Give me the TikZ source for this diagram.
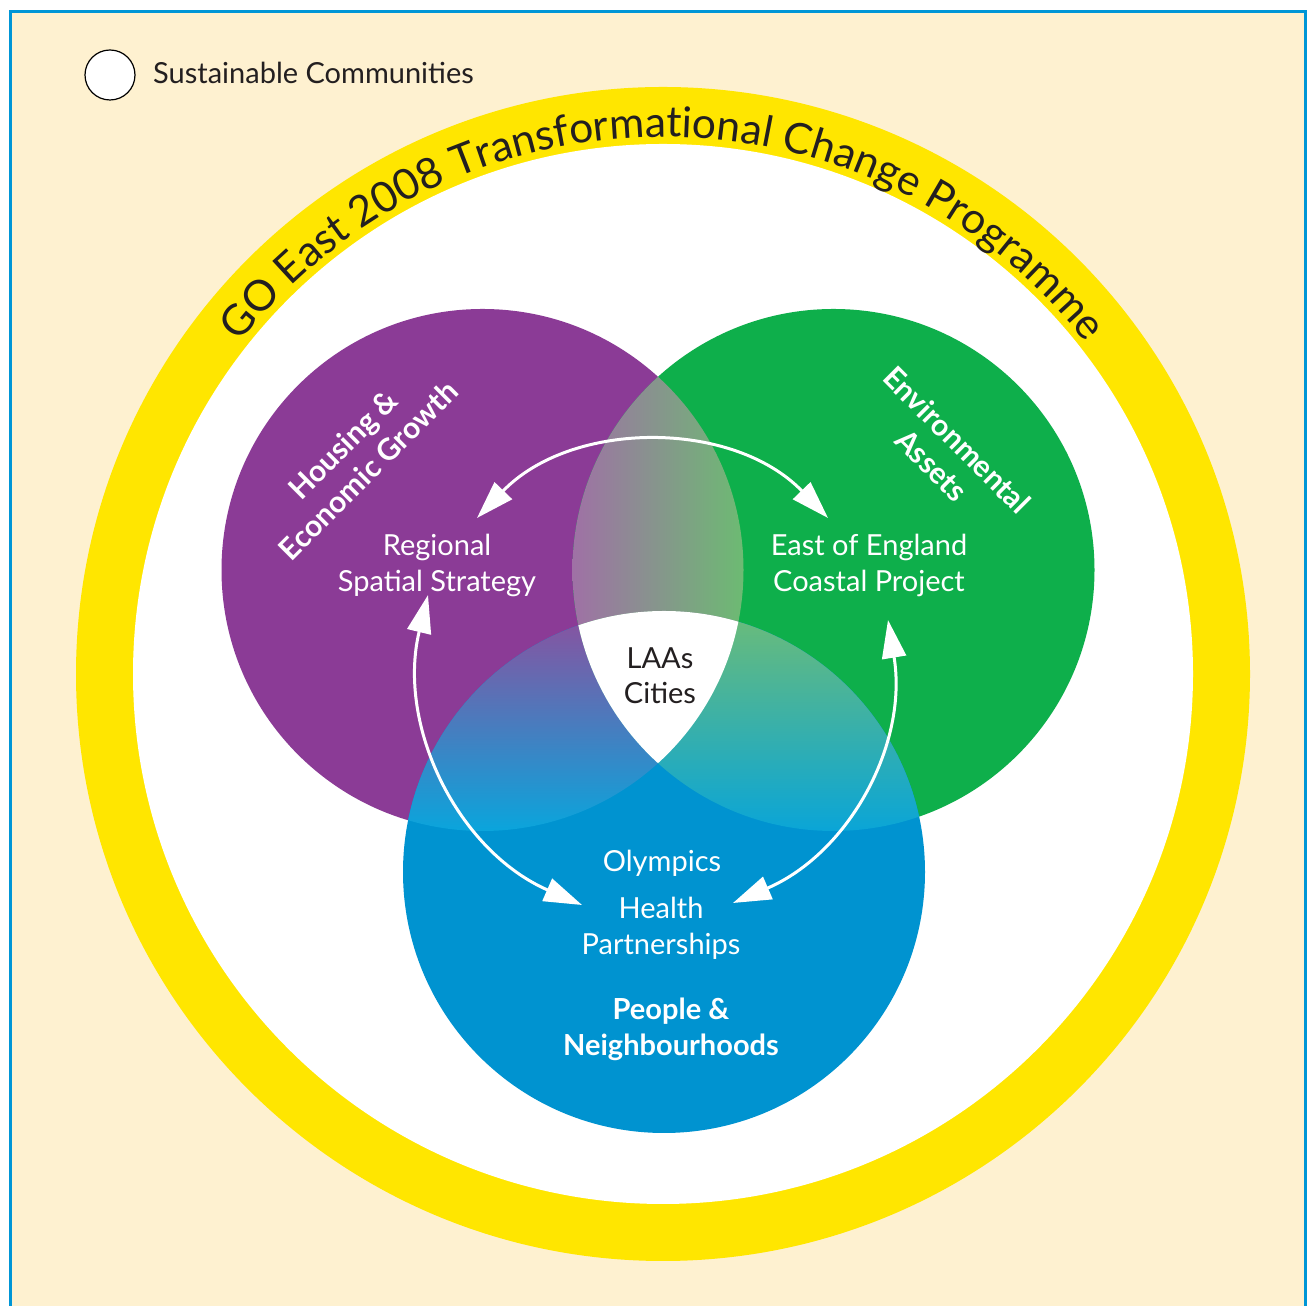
\documentclass[tikz,border=0pt]{standalone}
\usepackage{fontspec}
\setmainfont{Lato}
\usetikzlibrary{arrows.meta,decorations.text}
\definecolor{cream}{RGB}{254,241,208}
\definecolor{frameblue}{RGB}{0,150,214}
\definecolor{ringyellow}{RGB}{255,230,0}
\definecolor{vpurple}{RGB}{139,59,150}
\definecolor{vgreen}{RGB}{14,175,75}
\definecolor{vblue}{RGB}{0,147,208}
\definecolor{ink}{RGB}{35,31,32}
\definecolor{pgL}{RGB}{160,112,166}
\definecolor{pgR}{RGB}{108,187,114}
\definecolor{pbT}{RGB}{140,80,158}
\definecolor{pbM}{RGB}{112,118,182}
\definecolor{pbB}{RGB}{10,165,220}
\definecolor{gbT}{RGB}{108,188,120}
\definecolor{gbM}{RGB}{92,178,160}
\definecolor{gbB}{RGB}{10,165,215}
\begin{document}
\begin{tikzpicture}[x=1pt,y=1pt,
  lbl/.style={text=white, align=center, font=\fontsize{29}{36}\selectfont, inner sep=0pt},
  boldlbl/.style={text=white, align=center, font=\fontsize{30}{36}\selectfont\bfseries, inner sep=0pt},
  darklbl/.style={text=ink, align=center, font=\fontsize{29}{35}\selectfont, inner sep=0pt},
  link/.style={draw=white, line width=3pt, {Triangle[length=38pt,width=24pt]}-{Triangle[length=38pt,width=24pt]}}
]
\useasboundingbox (0,0) rectangle (1310,1306);
\clip (0,0) rectangle (1310,1306);
\fill[white] (0,0) rectangle (1310,1306);
\draw[frameblue, line width=3pt, fill=cream] (10,-20) rectangle (1305.5,1294.5);
% ring
\fill[ringyellow] (663,632) circle (587);
\fill[white] (663,632) circle (530);
% title
\path[decorate, decoration={text along path, text align=center,
  text={|\fontsize{42.5}{43}\selectfont\color{ink}|GO East 2008 Transformational Change Programme}}]
  (197.94,900.5) arc[start angle=150, end angle=30, radius=537];
% Venn circles
\fill[vpurple] (482.5,736) circle (261);
\fill[vgreen] (833.5,736) circle (261);
\fill[vblue] (664,434) circle (261);
\begin{scope}
  \clip (482.5,736) circle (261);
  \clip (833.5,736) circle (261);
  \shade[left color=pgL, right color=pgR] (571,540) rectangle (744,932);
\end{scope}
\begin{scope}
  \clip (482.5,736) circle (261);
  \clip (664,434) circle (261);
  \shade[top color=pbT, middle color=pbM, bottom color=pbB] (400,475) rectangle (750,695);
\end{scope}
\begin{scope}
  \clip (833.5,736) circle (261);
  \clip (664,434) circle (261);
  \shade[top color=gbT, middle color=gbM, bottom color=gbB] (570,475) rectangle (930,695);
\end{scope}
\begin{scope}
  \clip (482.5,736) circle (261);
  \clip (833.5,736) circle (261);
  \fill[white] (664,434) circle (261);
\end{scope}
% legend
\node[circle, draw=black, line width=1.2pt, fill=white, minimum size=50pt, inner sep=0pt] (legend) at (110,1231) {};
\node[anchor=west, text=ink, font=\fontsize{29}{35}\selectfont, inner sep=0pt] (legendtxt) at (153,1233) {Sustainable Communities};
% labels
\node[boldlbl, rotate=45] (housing) at (355.5,848.5) {Housing \&\\Economic Growth};
\node[boldlbl, rotate=-45] (env) at (944.5,853.5) {Environmental\\Assets};
\node[lbl] (rss) at (437,741) {Regional\\Spatial Strategy};
\node[lbl] (coast) at (869,741) {East of England\\Coastal Project};
\node[darklbl] (laa) at (660,630) {LAAs\\Cities};
\node[lbl] (olymp) at (662,443) {Olympics};
\node[lbl] (health) at (661,378) {Health\\Partnerships};
\node[boldlbl, font=\fontsize{29}{36}\selectfont\bfseries] (people) at (671,277) {People \&\\Neighbourhoods};
% arrows
\coordinate (tl) at (477,788);
\coordinate (tr) at (828,788);
\coordinate (lt) at (428,711);
\coordinate (lb) at (582,401);
\coordinate (rt) at (888,686);
\coordinate (rb) at (733,403);
\draw[link] (tl) to[bend left=46] (tr);
\draw[link] (lt) to[bend right=40] (lb);
\draw[link] (rt) to[bend left=38] (rb);
\end{tikzpicture}
\end{document}
